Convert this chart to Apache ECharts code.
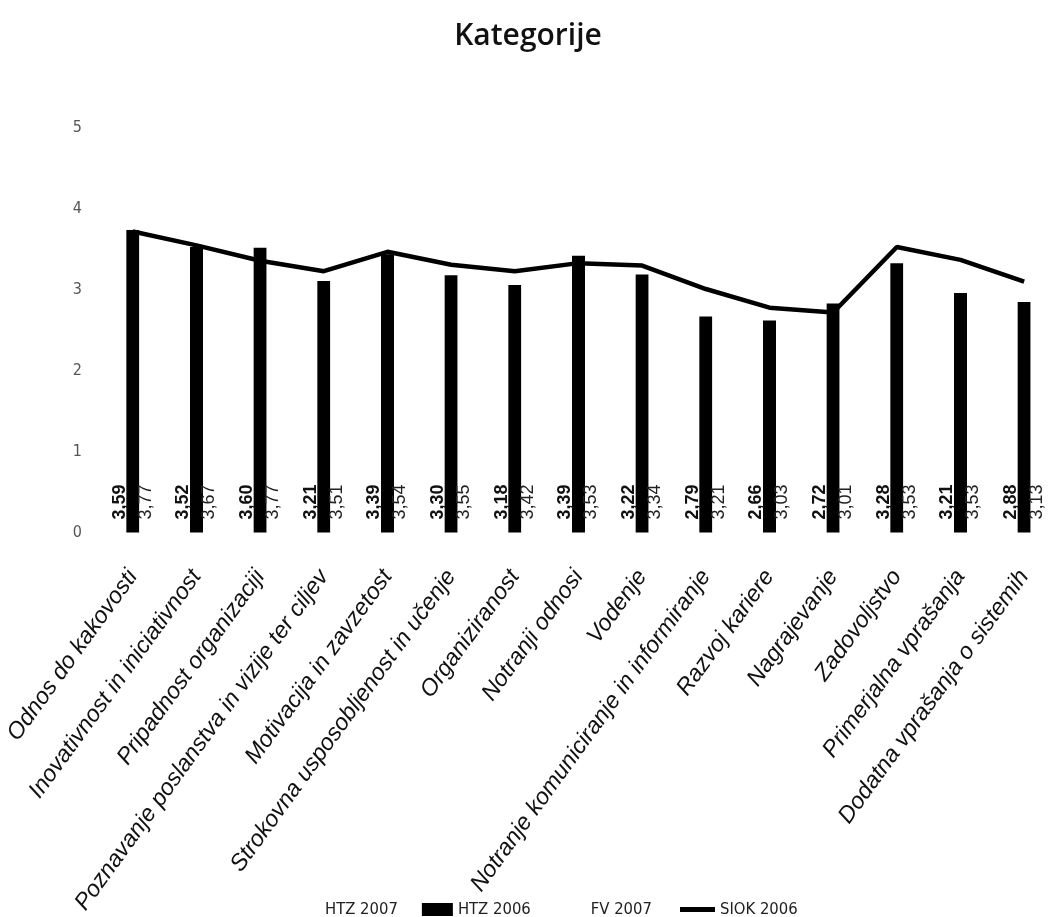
<!DOCTYPE html>
<html>
<head>
<meta charset="utf-8">
<script src="https://cdn.jsdelivr.net/npm/echarts@6/dist/echarts.min.js"></script>
<style>
  html, body { margin: 0; padding: 0; background: #fff; }
  #chart { width: 1056px; height: 917px; }
</style>
</head>
<body>
<div id="chart"></div>
<script>
// Category names (x axis)
const categories = [
  'Odnos do kakovosti',
  'Inovativnost in iniciativnost',
  'Pripadnost organizaciji',
  'Poznavanje poslanstva in vizije ter ciljev',
  'Motivacija in zavzetost',
  'Strokovna usposobljenost in učenje',
  'Organiziranost',
  'Notranji odnosi',
  'Vodenje',
  'Notranje komuniciranje in informiranje',
  'Razvoj kariere',
  'Nagrajevanje',
  'Zadovoljstvo',
  'Primerjalna vprašanja',
  'Dodatna vprašanja o sistemih'
];

// Series values
const htz2007 = [3.59, 3.52, 3.60, 3.21, 3.39, 3.30, 3.18, 3.39, 3.22, 2.79, 2.66, 2.72, 3.28, 3.21, 2.88];
const htz2006 = [3.74, 3.53, 3.52, 3.11, 3.44, 3.18, 3.06, 3.42, 3.19, 2.67, 2.62, 2.83, 3.33, 2.96, 2.85];
const fv2007  = [3.77, 3.67, 3.77, 3.51, 3.54, 3.55, 3.42, 3.53, 3.34, 3.21, 3.03, 3.01, 3.53, 3.53, 3.13];
const siok2006 = [3.72, 3.55, 3.36, 3.23, 3.47, 3.31, 3.23, 3.33, 3.30, 3.01, 2.78, 2.72, 3.53, 3.37, 3.10];

// Y axis ticks
const yTicks = [0, 1, 2, 3, 4, 5];

const fmtComma = v => v.toFixed(2).replace('.', ',');

function valueLabel(weight, color) {
  return {
    show: true,
    position: 'insideBottom',
    rotate: 90,
    align: 'left',
    verticalAlign: 'middle',
    distance: 13,
    fontSize: 18,
    fontFamily: 'Liberation Sans, Arial, sans-serif',
    fontWeight: weight,
    color: color,
    formatter: p => fmtComma(p.value)
  };
}

const legendText = {
  fontFamily: 'DejaVu Sans Condensed, sans-serif',
  fontSize: 16.5,
  color: '#222'
};

const chart = echarts.init(document.getElementById('chart'), null, { renderer: 'canvas' });

chart.setOption({
  backgroundColor: '#ffffff',
  animation: false,
  title: {
    text: 'Kategorije',
    left: 'center',
    top: 16,
    textStyle: {
      fontFamily: 'Open Sans, sans-serif',
      fontWeight: 600,
      fontSize: 30,
      color: '#111'
    }
  },
  legend: [
    {
      // bar series keys
      data: ['HTZ 2007', 'HTZ 2006', 'FV 2007'],
      left: 284,
      top: 896,
      icon: 'rect',
      itemWidth: 31,
      itemHeight: 13,
      itemGap: 24,
      textStyle: legendText
    },
    {
      // line series key
      data: ['SIOK 2006'],
      left: 675,
      top: 896,
      icon: 'rect',
      itemWidth: 35,
      itemHeight: 5,
      textStyle: legendText
    }
  ],
  grid: {
    left: 101,
    top: 128,
    width: 962,
    height: 405,
    containLabel: false
  },
  xAxis: {
    type: 'category',
    data: categories,
    axisLine: { show: false },
    axisTick: { show: false },
    axisLabel: {
      interval: 0,
      rotate: 54,
      margin: 40,
      fontSize: 23.3,
      fontStyle: 'italic',
      fontFamily: 'Liberation Sans, Arial, sans-serif',
      color: '#111'
    }
  },
  yAxis: {
    type: 'value',
    min: yTicks[0],
    max: yTicks[yTicks.length - 1],
    interval: 1,
    axisLine: { show: false },
    axisTick: { show: false },
    splitLine: { show: false },
    axisLabel: {
      margin: 19,
      fontSize: 16,
      fontFamily: 'DejaVu Sans Condensed, sans-serif',
      color: '#555'
    }
  },
  series: [
    {
      name: 'HTZ 2007',
      type: 'bar',
      data: htz2007,
      barWidth: 13,
      barGap: '0%',
      itemStyle: { color: '#ffffff' },
      label: valueLabel('bold', '#111'),
      z: 2
    },
    {
      name: 'HTZ 2006',
      type: 'bar',
      data: htz2006,
      barWidth: 13,
      barGap: '0%',
      itemStyle: { color: '#000000' },
      z: 2
    },
    {
      name: 'FV 2007',
      type: 'bar',
      data: fv2007,
      barWidth: 13,
      barGap: '0%',
      itemStyle: { color: '#ffffff' },
      label: valueLabel('normal', '#222'),
      z: 2
    },
    {
      name: 'SIOK 2006',
      type: 'line',
      data: siok2006,
      symbol: 'none',
      lineStyle: { color: '#000', width: 4.5 },
      itemStyle: { color: '#000' },
      z: 5
    }
  ]
});
</script>
</body>
</html>
